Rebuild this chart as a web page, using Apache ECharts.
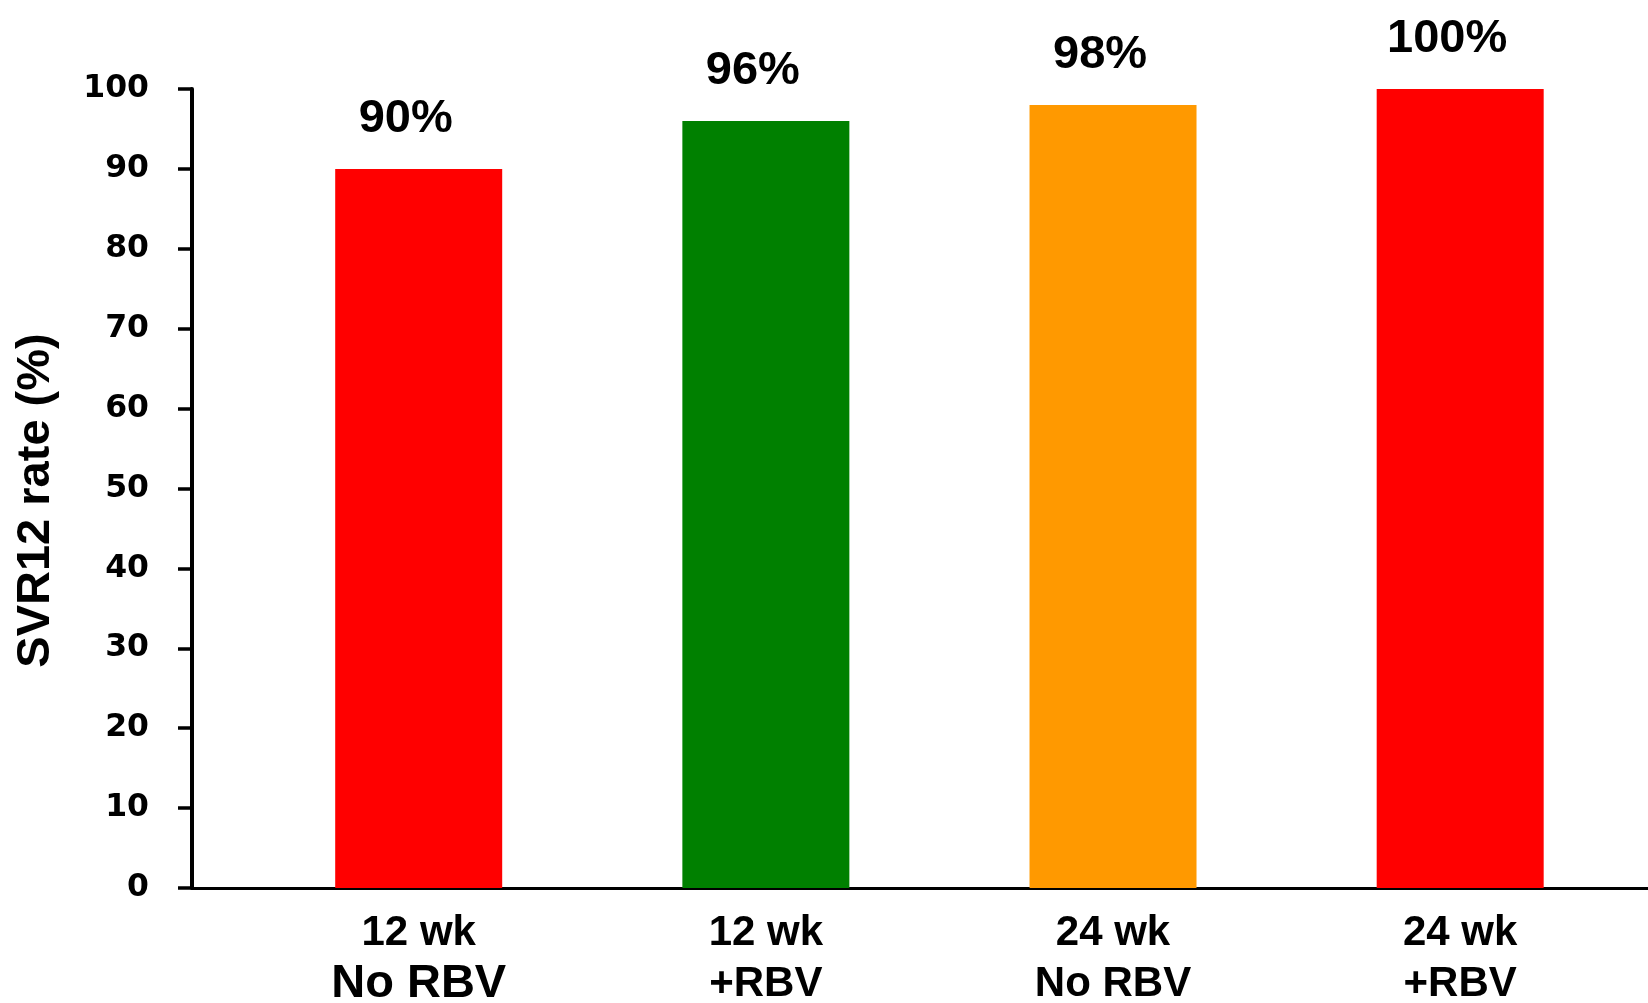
<!DOCTYPE html>
<html>
<head>
<meta charset="utf-8">
<script src="https://cdn.jsdelivr.net/npm/echarts@6/dist/echarts.min.js"></script>
<style>
  html, body { margin: 0; padding: 0; background: #ffffff; }
  #chart { width: 1648px; height: 1003px; }
</style>
</head>
<body>
<div id="chart"></div>
<script>
// Treatment arms (two-line labels: duration / ribavirin)
const categories = ['12 wk\nNo RBV', '12 wk\n+RBV', '24 wk\nNo RBV', '24 wk\n+RBV'];
// SVR12 rates in percent
const svrRates = [90, 96, 98, 100];
// Bar fill per arm
const barColors = ['#ff0000', '#008000', '#ff9900', '#ff0000'];
// Y axis range and step
const yMin = 0;
const yMax = 100;
const yStep = 10;
const yTitle = 'SVR12 rate (%)';

const FONT = '"Liberation Sans", Arial, Helvetica, sans-serif';
const TICK_FONT = '"DejaVu Sans", "Liberation Sans", Arial, sans-serif';

const chart = echarts.init(document.getElementById('chart'), null, { renderer: 'canvas' });

// Bars sit at integer positions along a numeric x axis, one per arm
const positions = categories.map((_, i) => i);

chart.setOption({
  animation: false,
  backgroundColor: '#ffffff',
  grid: {
    left: 192, right: 0, top: 89, bottom: 115,
    containLabel: false,
    outerBoundsMode: 'none'
  },
  xAxis: {
    type: 'value',
    min: -0.653,
    max: 3.541,
    axisLine: { show: true, onZero: false, lineStyle: { color: '#000', width: 3 } },
    axisTick: { show: false },
    splitLine: { show: false },
    axisLabel: {
      customValues: positions,
      margin: 20,
      color: '#000',
      fontFamily: FONT,
      formatter: function (v) {
        const i = Math.round(v);
        const parts = (categories[i] || '').split('\n');
        const second = i === 0 ? 'big' : 'b';
        return '{a|' + parts[0] + '}\n{' + second + '|' + parts[1] + '}';
      },
      rich: {
        a: { fontSize: 42, fontWeight: 'bold', fontFamily: FONT, color: '#000', lineHeight: 50 },
        b: { fontSize: 42, fontWeight: 'bold', fontFamily: FONT, color: '#000', lineHeight: 53 },
        big: { fontSize: 47, fontWeight: 'bold', fontFamily: FONT, color: '#000', lineHeight: 53 }
      }
    }
  },
  yAxis: {
    type: 'value',
    min: yMin,
    max: yMax,
    interval: yStep,
    name: yTitle,
    nameLocation: 'middle',
    nameGap: 132,
    nameRotate: 90,
    nameTextStyle: {
      fontSize: 47,
      fontWeight: 'bold',
      fontFamily: FONT,
      color: '#000',
      padding: [0, 24, 0, 0]
    },
    axisLine: { show: true, onZero: false, lineStyle: { color: '#000', width: 4 } },
    axisTick: { show: true, inside: false, length: 14, lineStyle: { color: '#000', width: 3.5 } },
    splitLine: { show: false },
    axisLabel: {
      margin: 43,
      fontSize: 31.5,
      fontWeight: 'bold',
      fontFamily: TICK_FONT,
      color: '#000',
      padding: [22, 0, 0, 0]
    }
  },
  series: [{
    type: 'bar',
    barWidth: 167,
    data: svrRates.map((v, i) => ({
      value: [positions[i], v],
      itemStyle: { color: barColors[i] }
    })),
    label: {
      show: true,
      position: 'top',
      distance: 26,
      offset: [-13, 0],
      formatter: p => p.value[1] + '%',
      fontSize: 47,
      fontWeight: 'bold',
      fontFamily: FONT,
      color: '#000'
    }
  }]
});
</script>
</body>
</html>
